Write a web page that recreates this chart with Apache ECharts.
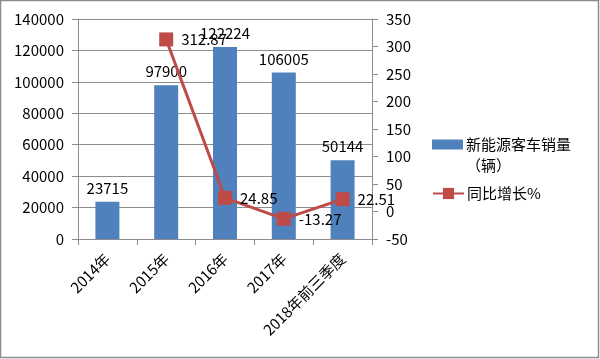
<!DOCTYPE html>
<html><head><meta charset="utf-8">
<script src="https://cdn.jsdelivr.net/npm/echarts@6/dist/echarts.min.js"></script>
<style>html,body{margin:0;padding:0;background:#fff}#c{width:600px;height:359px}</style>
</head><body><div id="c"></div>
<script>
const categories = ['2014年','2015年','2016年','2017年','2018年前三季度'];
const sales = [23715, 97900, 122224, 106005, 50144];
const growth = [null, 312.87, 24.85, -13.27, 22.51];
const leftTicks = {min:0, max:140000, interval:20000};
const rightTicks = {min:-50, max:350, interval:50};
const salesName = '新能源客车销量\n（辆）';
const growthName = '同比增长%';

const FONT = '"Noto Sans CJK SC","Liberation Sans",sans-serif';
const chart = echarts.init(document.getElementById('c'), null, {renderer:'canvas'});
chart.setOption({
  animation:false,
  textStyle:{fontFamily:FONT},
  graphic:[{type:'rect',shape:{x:0.5,y:0.5,width:598,height:357},style:{fill:'none',stroke:'#8c8c8c',lineWidth:1.5}}],
  grid:{left:78,right:228,top:19,bottom:120,containLabel:false},
  legend:[
    {left:432,top:113,padding:0,itemWidth:31,itemHeight:10,icon:'rect',data:[salesName],
     formatter:n=>' \n'+n,
     textStyle:{fontSize:15,color:'#000',fontFamily:FONT,lineHeight:21,padding:[0,0,0,-2]}},
    {left:432,top:186,padding:0,itemWidth:31,itemHeight:14,data:[growthName],
     textStyle:{fontSize:15,color:'#000',fontFamily:FONT,padding:[0,0,0,-2]}}
  ],
  xAxis:{type:'category',data:categories,boundaryGap:true,
    axisLine:{lineStyle:{color:'#8c8c8c'}},
    axisTick:{show:true,length:6,alignWithLabel:false,lineStyle:{color:'#8c8c8c'}},
    axisLabel:{rotate:45,fontSize:15,color:'#000',margin:17,interval:0,fontFamily:FONT}},
  yAxis:[
    {type:'value',min:leftTicks.min,max:leftTicks.max,interval:leftTicks.interval,
     axisLine:{show:true,lineStyle:{color:'#8c8c8c'}},
     axisTick:{show:true,length:6,lineStyle:{color:'#8c8c8c'}},
     splitLine:{lineStyle:{color:'#8c8c8c'}},
     axisLabel:{fontSize:15,color:'#000',margin:14,fontFamily:FONT,formatter:v=>String(v)}},
    {type:'value',min:rightTicks.min,max:rightTicks.max,interval:rightTicks.interval,position:'right',
     axisLine:{show:true,lineStyle:{color:'#8c8c8c'}},
     axisTick:{show:true,length:6,lineStyle:{color:'#8c8c8c'}},
     splitLine:{show:false},
     axisLabel:{fontSize:15,color:'#000',margin:14,fontFamily:FONT,formatter:v=>String(v)}}
  ],
  series:[
    {name:salesName,type:'bar',data:sales,barWidth:24,yAxisIndex:0,
     itemStyle:{color:'#4f81bd'},
     label:{show:true,position:'top',distance:6,fontSize:15,color:'#000',fontFamily:FONT}},
    {name:growthName,type:'line',data:growth,yAxisIndex:1,connectNulls:false,
     symbol:'rect',symbolSize:14,
     lineStyle:{color:'#be4b48',width:3},itemStyle:{color:'#be4b48'},
     label:{show:true,position:'right',distance:8,fontSize:15,color:'#000',fontFamily:FONT}}
  ]
});
</script></body></html>
